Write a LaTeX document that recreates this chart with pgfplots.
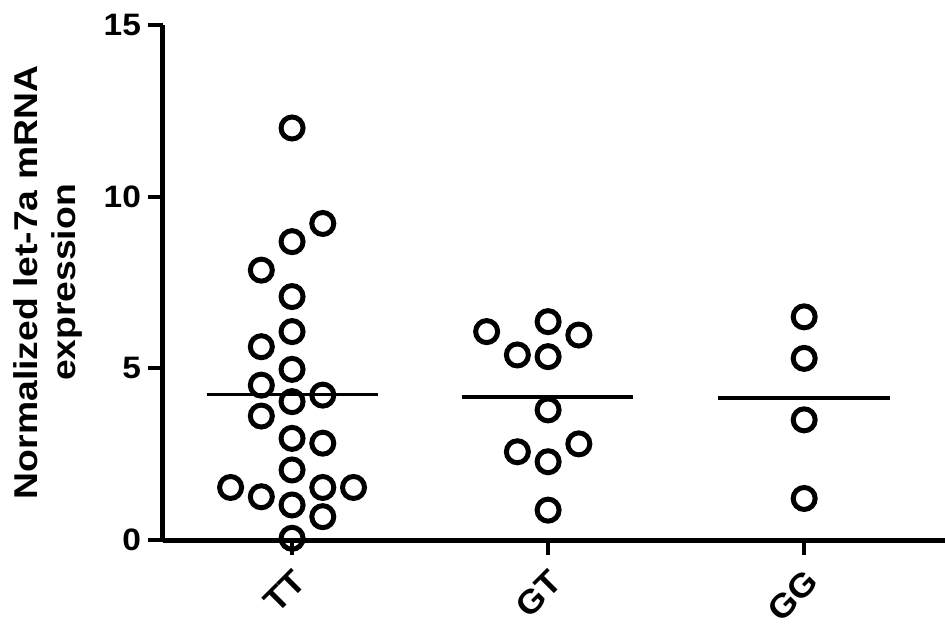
\documentclass[border=0pt]{standalone}
\usepackage{fontspec}
\setmainfont{Liberation Sans}
\newfontfamily\tickfont{Liberation Sans}[FakeStretch=1.08]
\newfontfamily\labelfont{Liberation Sans}[FakeStretch=1.13]
\usepackage{pgfplots}
\pgfplotsset{compat=1.18}

\begin{document}
\begin{tikzpicture}
\begin{axis}[
  scale only axis, width=391pt, height=257.5pt,
  xmin=0.496, xmax=3.55, ymin=0, ymax=15,
  axis x line=bottom, axis y line=left,
  axis line style={-, line width=2.5pt},
  every tick/.style={black, line width=2pt},
  tick align=outside, major tick length=7.5pt,
  xtick={1,2,3}, xticklabels={TT,GT,GG},
  ytick={0,5,10,15},
  /pgf/number format/assume math mode=true,
  tick label style={font=\tickfont\fontsize{15.5}{18}\selectfont\bfseries},
  x tick label style={xshift=6.5pt, yshift=-8pt, rotate=45, anchor=east,
    font=\tickfont\fontsize{16.5}{18}\selectfont\bfseries},
  ylabel={Normalized let-7a mRNA\\expression},
  ylabel style={align=center, yshift=4pt,
    font=\labelfont\fontsize{16.5}{19}\selectfont\bfseries},
  clip=false,
]
% individual values
\addplot[only marks, mark=o, mark size=5.5pt, line width=2.5pt, black] coordinates {
  (1,12.0)(1.12,9.22)(1,8.69)(0.88,7.86)(1,7.09)(1,6.07)(0.88,5.63)(1,4.97)
  (0.88,4.51)(1,4.03)(1.12,4.22)(0.88,3.61)(1,2.96)(1.12,2.82)(1,2.04)
  (0.76,1.53)(0.88,1.26)(1.12,1.53)(1.24,1.53)(1,1.02)(1.12,0.68)(1,0.05)
};
\addplot[only marks, mark=o, mark size=5.5pt, line width=2.5pt, black] coordinates {
  (1.76,6.07)(2,6.36)(2.12,5.97)(1.88,5.39)(2,5.34)(2,3.79)(1.88,2.57)
  (2.12,2.80)(2,2.28)(2,0.87)
};
\addplot[only marks, mark=o, mark size=5.5pt, line width=2.5pt, black] coordinates {
  (3,6.50)(3,5.29)(3,3.50)(3,1.21)
};
% means
\addplot[black, line width=1.8pt] coordinates {(0.667,4.24)(1.337,4.24)};
\addplot[black, line width=1.8pt] coordinates {(1.663,4.16)(2.333,4.16)};
\addplot[black, line width=1.8pt] coordinates {(2.663,4.13)(3.337,4.13)};
\end{axis}
\pgfresetboundingbox
\useasboundingbox ([xshift=-81.5pt,yshift=-49pt]current axis.south west)
  rectangle ([yshift=12.5pt]current axis.north east);
\end{tikzpicture}
\end{document}
